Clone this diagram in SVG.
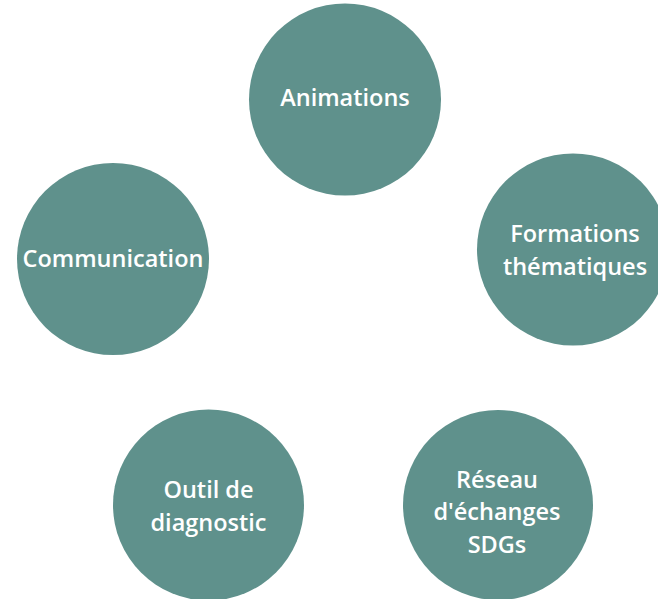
<svg xmlns="http://www.w3.org/2000/svg" width="658" height="599" viewBox="0 0 658 599">
<style>
.n{fill:#5f918c}
.t{fill:#ffffff;font-family:"Open Sans","Noto Sans",sans-serif;font-weight:600;font-size:23.5px;text-anchor:middle}
</style>
<rect width="658" height="599" fill="#ffffff"/>
<g id="connectors"></g>
<g id="animations">
<circle class="n" cx="345" cy="99.5" r="96"/>
<text class="t" x="345" y="106">Animations</text>
</g>
<g id="formations">
<circle class="n" cx="573" cy="249.5" r="96"/>
<text class="t" x="575" y="242">Formations</text>
<text class="t" x="575" y="275">thématiques</text>
</g>
<g id="communication">
<circle class="n" cx="113" cy="259" r="96"/>
<text class="t" x="113" y="267">Communication</text>
</g>
<g id="outil">
<circle class="n" cx="208.5" cy="505" r="95.5"/>
<text class="t" x="208.5" y="498">Outil de</text>
<text class="t" x="208.5" y="531">diagnostic</text>
</g>
<g id="reseau">
<circle class="n" cx="498" cy="505" r="95"/>
<text class="t" x="497" y="488">Réseau</text>
<text class="t" x="497" y="520">d'échanges</text>
<text class="t" x="497" y="553">SDGs</text>
</g>
</svg>
